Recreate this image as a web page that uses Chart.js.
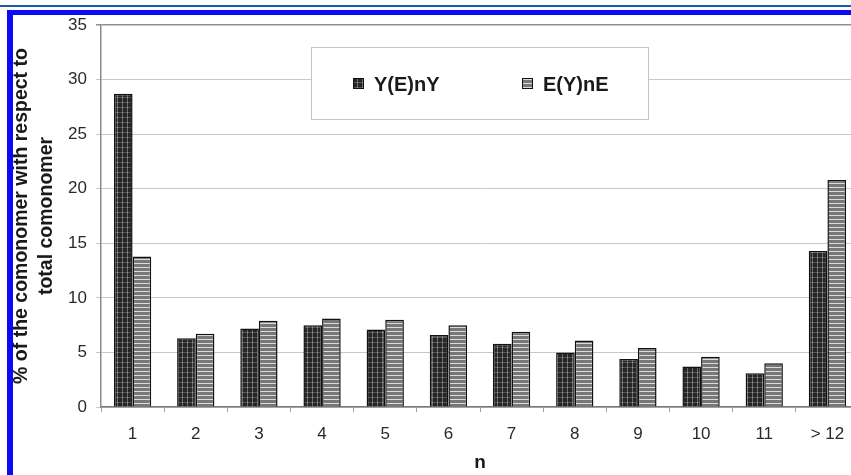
<!DOCTYPE html>
<html>
<head>
<meta charset="utf-8">
<script src="https://cdn.jsdelivr.net/npm/chart.js@4/dist/chart.umd.min.js"></script>
<style>
  html, body { margin: 0; padding: 0; background: #fff; overflow: hidden; width: 851px; height: 475px; }
  #wrap { position: absolute; left: 0; top: 0; width: 870px; height: 475px; }
  #line1 { position: absolute; left: 0; top: 5px; width: 851px; height: 2px; background: #1d5aa4; }
  #frameTop { position: absolute; left: 7px; top: 10px; width: 844px; height: 5px; background: #0a0af5; }
  #frameLeft { position: absolute; left: 7px; top: 10px; width: 6px; height: 465px; background: #0a0af5; }
</style>
</head>
<body>
<div id="wrap"><canvas id="c" width="870" height="475"></canvas></div>
<div id="line1"></div>
<div id="frameTop"></div>
<div id="frameLeft"></div>
<script>
const categories = ['1', '2', '3', '4', '5', '6', '7', '8', '9', '10', '11', '> 12'];
const seriesNames = ['Y(E)nY', 'E(Y)nE'];
const yenyValues = [28.7, 6.3, 7.2, 7.5, 7.1, 6.6, 5.8, 5.0, 4.4, 3.7, 3.1, 14.3];
const eyneValues = [13.8, 6.7, 7.9, 8.1, 8.0, 7.5, 6.9, 6.1, 5.4, 4.6, 4.0, 20.8];
const yTicks = [0, 5, 10, 15, 20, 25, 30, 35];
const yTitle = ['% of the comonomer with respect to', 'total comonomer'];
const xTitle = 'n';

function makePattern(type) {
  const t = document.createElement('canvas');
  const g = t.getContext('2d');
  if (type === 'mesh') {
    t.width = 5; t.height = 5;
    g.fillStyle = '#262626'; g.fillRect(0, 0, 5, 5);
    g.fillStyle = '#6c6c6c'; g.fillRect(2, 0, 1, 5);
    g.fillStyle = '#555555'; g.fillRect(0, 2, 5, 1);
    g.fillStyle = '#9a9a9a'; g.fillRect(2, 2, 1, 1);
  } else {
    t.width = 4; t.height = 4;
    g.fillStyle = '#777777'; g.fillRect(0, 0, 4, 4);
    g.fillStyle = '#dcdcdc'; g.fillRect(0, 3, 4, 1);
  }
  return document.getElementById('c').getContext('2d').createPattern(t, 'repeat');
}
const patY = makePattern('mesh');
const patE = makePattern('stripe');

const FONT = "'Liberation Sans', Arial, sans-serif";

const legendBox = {
  id: 'legendBox',
  afterDatasetsDraw(chart) {
    const ctx = chart.ctx;
    ctx.save();
    ctx.fillStyle = '#ffffff';
    ctx.fillRect(311, 47, 337, 72);
    ctx.strokeStyle = '#c4c4c4';
    ctx.lineWidth = 1;
    ctx.strokeRect(311.5, 47.5, 337, 72);
    const items = [
      { x: 353, pat: patY, text: seriesNames[0] },
      { x: 522, pat: patE, text: seriesNames[1] }
    ];
    ctx.font = "bold 20px " + FONT;
    ctx.textBaseline = 'middle';
    ctx.textAlign = 'left';
    items.forEach(it => {
      ctx.fillStyle = it.pat;
      ctx.fillRect(it.x, 78, 11, 11);
      ctx.strokeStyle = '#111';
      ctx.lineWidth = 1;
      ctx.strokeRect(it.x + 0.5, 78.5, 10, 10);
      ctx.fillStyle = '#1a1a1a';
      ctx.fillText(it.text, it.x + 21, 85);
    });
    ctx.restore();
  }
};

new Chart(document.getElementById('c'), {
  type: 'bar',
  data: {
    labels: categories,
    datasets: [
      { label: seriesNames[0], data: yenyValues, backgroundColor: patY, borderColor: '#111', borderWidth: 1.5 },
      { label: seriesNames[1], data: eyneValues, backgroundColor: patE, borderColor: '#111', borderWidth: 1.5 }
    ]
  },
  options: {
    responsive: false,
    devicePixelRatio: 1,
    animation: false,
    datasets: { bar: { categoryPercentage: 0.59, barPercentage: 1.0 } },
    layout: { padding: { left: 0, right: 11, top: 25, bottom: 0 } },
    plugins: { legend: { display: false }, tooltip: { enabled: false } },
    scales: {
      x: {
        grid: { display: true, drawOnChartArea: false, drawTicks: true, tickLength: 5, color: '#a0a0a0', offset: true },
        border: { display: true, color: '#7a7a7a', width: 1.5 },
        ticks: { color: '#2a2a2a', font: { family: FONT, size: 17 }, padding: 12, maxRotation: 0, autoSkip: false },
        title: { display: true, text: xTitle, color: '#1a1a1a', font: { family: FONT, size: 19, weight: 'bold' }, padding: { top: 0, bottom: 1 } },
        afterFit(scale) { scale.height = 68; }
      },
      y: {
        min: 0, max: 35,
        afterBuildTicks(scale) { scale.ticks = yTicks.map(v => ({ value: v })); },
        grid: {
          color: ctx => (ctx.tick && ctx.tick.value === 35) ? '#8f8f8f' : '#c8c8c8',
          lineWidth: ctx => (ctx.tick && ctx.tick.value === 35) ? 1.5 : 1,
          tickLength: 5, drawTicks: true
        },
        border: { display: true, color: '#8a8a8a', width: 1.5 },
        ticks: { color: '#2a2a2a', font: { family: FONT, size: 17 }, padding: 9 },
        title: { display: true, text: yTitle, color: '#1a1a1a', font: { family: FONT, size: 19.5, weight: 'bold', lineHeight: 1.3 }, padding: { top: 9, bottom: 0 } },
        afterFit(scale) { scale.width = 101; }
      }
    }
  },
  plugins: [legendBox]
});
</script>
</body>
</html>
